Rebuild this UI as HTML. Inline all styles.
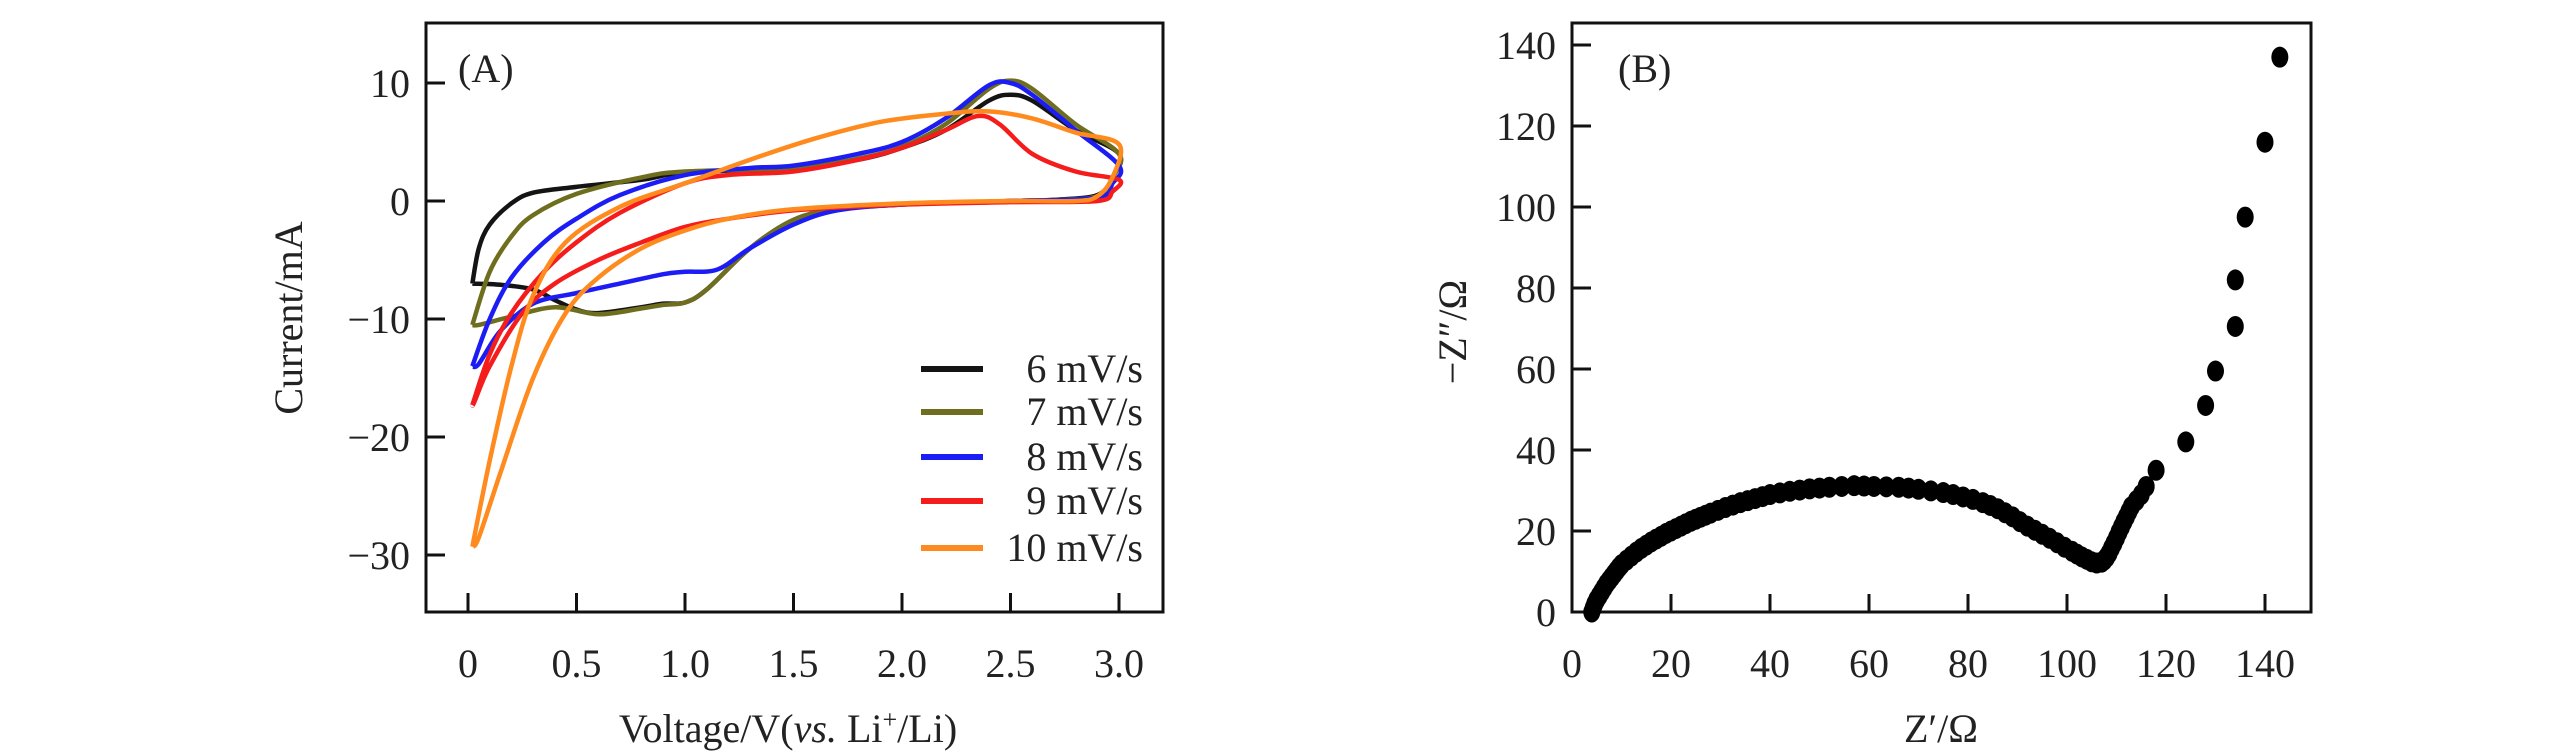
<!DOCTYPE html>
<html><head><meta charset="utf-8"><style>
html,body{margin:0;padding:0;background:#fff}
svg{display:block}
text{font-family:"Liberation Serif",serif;fill:#222}
</style></head><body>
<svg id="chart" width="2567" height="756" viewBox="0 0 2567 756">
<g id="pa"></g>
<g id="pb"></g>
</svg>
<script>
const NS="http://www.w3.org/2000/svg";
// Panel A data
const cvXTicks=[0,0.5,1.0,1.5,2.0,2.5,3.0];
const cvXTickLabels=["0","0.5","1.0","1.5","2.0","2.5","3.0"];
const cvYTicks=[10,0,-10,-20,-30];
const cvYTickLabels=["10","0","\u221210","\u221220","\u221230"];
const seriesNames=["6 mV/s","7 mV/s","8 mV/s","9 mV/s","10 mV/s"];
const seriesColors=["#141414","#6e6e1e","#1c1cf5","#f51c1c","#ff8a1e"];
const cv6=[[0.02,-7],[0.05,-4],[0.1,-2],[0.2,-0.2],[0.3,0.7],[0.5,1.2],[0.8,1.8],[1.0,2.4],[1.5,2.8],[1.8,3.5],[2.0,4.5],[2.2,6],[2.4,8.5],[2.5,9],[2.6,8.5],[2.8,6],[3.0,4],[2.97,2],[2.9,0.5],[2.7,0.1],[2.5,0],[2.0,-0.3],[1.7,-0.7],[1.5,-1.6],[1.3,-4],[1.1,-7.5],[1.0,-8.6],[0.9,-8.7],[0.8,-9],[0.6,-9.5],[0.5,-9.2],[0.4,-8.4],[0.3,-7.5],[0.15,-7.1],[0.02,-7]];
const cv7=[[0.02,-10.5],[0.1,-6],[0.2,-3],[0.3,-1.2],[0.5,0.6],[0.8,2],[1.0,2.5],[1.5,2.8],[1.8,3.6],[2.0,4.6],[2.2,6.5],[2.4,9.5],[2.5,10.2],[2.6,9.5],[2.8,6.5],[3.0,4],[2.97,2],[2.9,0.4],[2.7,0.1],[2.5,0],[2.0,-0.3],[1.7,-0.7],[1.5,-1.6],[1.3,-4],[1.1,-7.5],[1.0,-8.6],[0.9,-8.8],[0.8,-9.1],[0.6,-9.6],[0.4,-9],[0.2,-9.8],[0.05,-10.5],[0.02,-10.5]];
const cv8=[[0.02,-14],[0.1,-10],[0.2,-6.5],[0.35,-3.5],[0.5,-1.5],[0.7,0.5],[1.0,2.2],[1.3,2.8],[1.5,3],[1.8,4],[2.0,5],[2.2,7],[2.4,9.8],[2.5,10],[2.6,9],[2.8,6],[3.0,3],[2.97,1.5],[2.9,0.3],[2.5,0],[2.0,-0.3],[1.7,-0.8],[1.5,-2],[1.3,-4],[1.15,-5.8],[1.0,-6],[0.9,-6.2],[0.7,-7],[0.5,-7.8],[0.3,-8.7],[0.15,-11],[0.05,-13.8],[0.02,-14]];
const cv9=[[0.02,-17.3],[0.1,-13],[0.2,-9.5],[0.35,-6],[0.5,-3.5],[0.7,-1],[1.0,1.5],[1.2,2.2],[1.5,2.5],[1.8,3.5],[2.0,4.5],[2.2,6],[2.35,7.2],[2.45,6.5],[2.6,4],[2.8,2.5],[3.0,1.8],[2.97,0.8],[2.9,0],[2.5,-0.1],[2.0,-0.3],[1.5,-0.8],[1.2,-1.5],[1.0,-2.2],[0.8,-3.5],[0.6,-5],[0.4,-7],[0.25,-9.5],[0.1,-14],[0.03,-17],[0.02,-17.3]];
const cv10=[[0.02,-29.3],[0.1,-22],[0.2,-14],[0.3,-8],[0.45,-3.5],[0.7,-0.5],[1.0,1.5],[1.3,3.5],[1.6,5.3],[1.9,6.7],[2.2,7.4],[2.4,7.6],[2.6,7],[2.8,5.8],[3.0,4.8],[2.97,2],[2.9,0.4],[2.8,0],[2.5,0],[2.0,-0.2],[1.5,-0.7],[1.2,-1.5],[1.0,-2.5],[0.8,-4],[0.6,-6.5],[0.45,-9.5],[0.3,-15],[0.15,-23],[0.05,-28.5],[0.02,-29.3]];
const cvSeries=[cv6,cv7,cv8,cv9,cv10];
// Panel B data
const eisXTicks=[0,20,40,60,80,100,120,140];
const eisYTicks=[0,20,40,60,80,100,120,140];
const eisX=[4,4.3,4.6,5,5.5,6,6.5,7,7.5,8,8.5,9,9.5,10,11,12,13,14,15,16,17,18,19,20,21,22,23,24,25,26,27,28,29.5,31,32.5,34,35.5,37,38.5,40,42,44,46,48,50,52,54.5,57,59,61,63.5,66,68,70,72.5,75,77,79,81,83,84.5,86,87.5,89,90.5,92,93.5,95,96.5,98,99.5,101,102,103,104,105,106,107,107.5,108,108.5,109,109.5,110,110.5,111,111.5,112,112.5,113,114,115,116,118,124,128,130,134,134,136,140,143];
const eisY=[0,1,2,3,4,5,6,7,7.8,8.6,9.4,10.2,11,11.7,12.8,13.8,14.8,15.7,16.5,17.3,18,18.7,19.4,20,20.6,21.2,21.8,22.4,22.9,23.4,23.9,24.4,25.1,25.8,26.4,27,27.5,28,28.5,29,29.4,29.8,30.1,30.4,30.6,30.8,31,31.2,31.1,31,30.9,30.8,30.6,30.3,29.9,29.5,29,28.4,27.8,27,26.3,25.5,24.5,23.5,22.3,21.2,20.2,19.2,18.2,17.1,16,15,14.3,13.6,13,12.4,12.1,12.3,12.8,13.5,14.5,15.8,17,18.3,19.7,21,22.3,23.5,24.8,26,27.5,29,31,35,42,51,59.5,70.5,82,97.5,116,137];

function el(tag,attrs,parent,txt){const e=document.createElementNS(NS,tag);for(const k in attrs)e.setAttribute(k,attrs[k]);if(txt!==undefined)e.textContent=txt;parent.appendChild(e);return e;}

// ---- Panel A ----
const pa=document.getElementById('pa');
const ax=v=>468+(v-0)*(1119-468)/3;
const ay=v=>201-v*11.8;
const boxA=el('rect',{x:426,y:23,width:737,height:589,fill:'none',stroke:'#111','stroke-width':3},pa);

cvXTicks.forEach((t,i)=>{
  const l=el('line',{x1:ax(t),x2:ax(t),y1:612,y2:593,stroke:'#111','stroke-width':3},pa);
  
  const tx=el('text',{x:ax(t),y:677,'font-size':40,'text-anchor':'middle'},pa,cvXTickLabels[i]);
  
});
cvYTicks.forEach((t,i)=>{
  const l=el('line',{x1:426,x2:445,y1:ay(t),y2:ay(t),stroke:'#111','stroke-width':3},pa);
  
  const tx=el('text',{x:410,y:ay(t)+14,'font-size':40,'text-anchor':'end'},pa,cvYTickLabels[i]);
  
});
function smooth(pts){let d=`M${pts[0][0]},${pts[0][1]}`;for(let i=0;i<pts.length-1;i++){const p0=pts[Math.max(0,i-1)],p1=pts[i],p2=pts[i+1],p3=pts[Math.min(pts.length-1,i+2)];d+=` C${p1[0]+(p2[0]-p0[0])/6},${p1[1]+(p2[1]-p0[1])/6} ${p2[0]-(p3[0]-p1[0])/6},${p2[1]-(p3[1]-p1[1])/6} ${p2[0]},${p2[1]}`;}return d;}
cvSeries.forEach((s,i)=>{
  const p=el('path',{d:smooth(s.map(q=>[ax(q[0]),ay(q[1])])),fill:'none',stroke:seriesColors[i],'stroke-width':4.5,'stroke-linejoin':'round'},pa);
  
});
const legY=[369,412,457,501,548];
seriesNames.forEach((n,i)=>{
  const g=el('g',{},pa);
  
  el('line',{x1:921,x2:983,y1:legY[i],y2:legY[i],stroke:seriesColors[i],'stroke-width':6},g);
  el('text',{x:1143,y:legY[i]+13,'font-size':40,'text-anchor':'end'},g,n);
});
const la=el('text',{x:458,y:82,'font-size':40},pa,'(A)');

const xta=el('text',{x:788,y:742,'font-size':40,'text-anchor':'middle'},pa);

xta.innerHTML='Voltage/V(<tspan font-style="italic">vs.</tspan> Li<tspan font-size="26" dy="-14">+</tspan><tspan dy="14">/Li)</tspan>';
const yta=el('text',{x:0,y:0,'font-size':40,'text-anchor':'middle',transform:'translate(302,318) rotate(-90)'},pa,'Current/mA');


// ---- Panel B ----
const pb=document.getElementById('pb');
const bx=v=>1572+v*(99/20);
const by=v=>612-v*(81/20);
const boxB=el('rect',{x:1572,y:23,width:739,height:589,fill:'none',stroke:'#111','stroke-width':3},pb);

eisXTicks.forEach(t=>{
  const l=el('line',{x1:bx(t),x2:bx(t),y1:612,y2:594,stroke:'#111','stroke-width':3},pb);
  
  const tx=el('text',{x:bx(t),y:677,'font-size':40,'text-anchor':'middle'},pb,String(t));
  
});
eisYTicks.forEach(t=>{
  const l=el('line',{x1:1572,x2:1591,y1:by(t),y2:by(t),stroke:'#111','stroke-width':3},pb);
  
  const tx=el('text',{x:1556,y:by(t)+14,'font-size':40,'text-anchor':'end'},pb,String(t));
  
});
eisX.forEach((x,i)=>{
  const c=el('ellipse',{cx:bx(x),cy:by(eisY[i]),rx:8.5,ry:10.5,fill:'#000'},pb);
  
});
const lb=el('text',{x:1618,y:82,'font-size':40},pb,'(B)');

const xtb=el('text',{x:1941,y:742,'font-size':40,'text-anchor':'middle'},pb,'Z\u2032/\u03A9');

const ytb=el('text',{x:0,y:0,'font-size':40,'text-anchor':'middle',transform:'translate(1466,332) rotate(-90)'},pb,'\u2212Z\u2033/\u03A9');

</script>
</body></html>
